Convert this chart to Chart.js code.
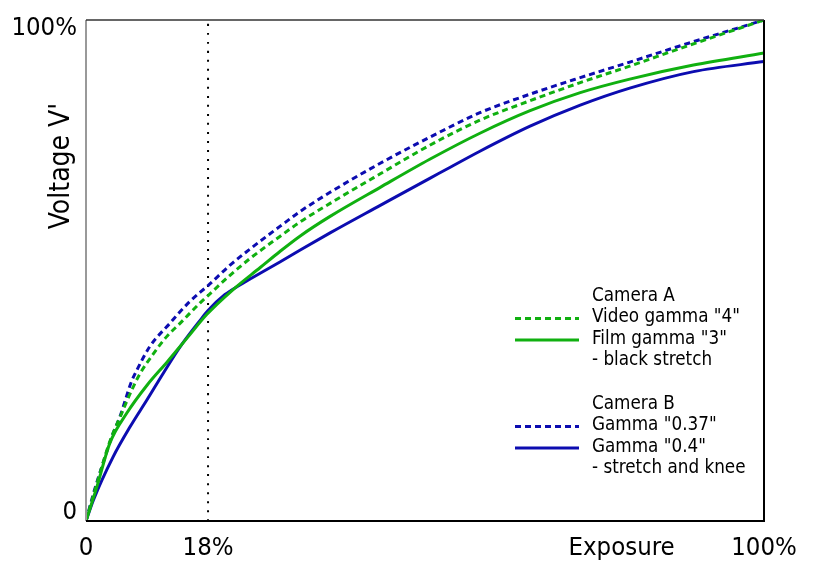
<!DOCTYPE html>
<html>
<head>
<meta charset="utf-8">
<script src="https://cdn.jsdelivr.net/npm/chart.js@4"></script>
<style>
  html, body { margin: 0; padding: 0; background: #fff; }
  #wrap { width: 814px; height: 561px; position: relative; }
</style>
</head>
<body>
<div id="wrap"><canvas id="chart"></canvas></div>
<script>
// Data (x = exposure %, y = voltage %)
const videoGamma4 = [[0,0],[1.5,7],[3.5,15.8],[5.2,21.3],[6.7,26],[8,29.5],[9.9,33.3],[11.9,36.8],[13.9,39.5],[16.8,43.5],[18,45],[21.2,49],[24.2,52.4],[28.6,56.8],[31.6,59.7],[36,63.4],[43.4,69.3],[50.7,75],[58.1,80],[65.5,83.9],[72.9,87.5],[80.2,90.8],[88,94.5],[100,100]];
const filmGamma3 = [[0,0],[1.6,6.8],[3.5,15.5],[6,21.5],[9,27.1],[12,31.8],[14.9,36.5],[17.8,41.2],[21.7,46.2],[25.7,50.6],[28.6,53.8],[31.6,56.9],[36,60.8],[43.4,66.6],[50.7,72.2],[58.1,77.4],[65.5,81.9],[72.9,85.5],[80.2,88.2],[89.6,91],[100,93.4]];
const gamma037 = [[0,0],[1.1,5.5],[2.5,11.5],[4,17.5],[5,20.8],[6.7,27.8],[7.5,30.1],[9.4,34.8],[12.4,39.5],[15.3,43.8],[18,47],[21.2,51],[24.2,54.3],[28.6,58.8],[31.6,61.8],[36,65.6],[43.4,71.4],[50.7,76.6],[58.1,81.5],[65.5,85.2],[72.9,88.5],[80.2,91.6],[88,95],[100,100]];
const gamma04 = [[0,0],[1.1,4.2],[4,12.8],[6.5,18.8],[9,24.2],[11.4,29.5],[13.9,34.8],[16.8,40],[18,42],[20.5,45.2],[22.7,47.1],[24.2,48.3],[28.6,51.7],[31.6,54.1],[36,57.5],[43.4,63],[50.7,68.4],[52.9,70],[58.1,73.8],[65.5,78.8],[72.9,83],[80.2,86.4],[89.6,89.7],[100,91.7]];
const markerLine = [[18,0],[18,100]];

const xTickValues = [0, 18, 79, 100];
const xTickLabels = ['0', '18%', 'Exposure', '100%'];
const yTickValues = [0, 100];
const yTickLabels = ['0', '100%'];
const yTitle = "Voltage V'";

const GREEN = '#10b010';
const BLUE = '#0c0cb0';
const FONT = "'DejaVu Sans Condensed', 'DejaVu Sans', sans-serif";

const toPts = arr => arr.map(p => ({ x: p[0], y: p[1] }));

// Legend groups: heading, then entries (dataset index + extra line)
const legendGroups = [
  { heading: 'Camera A', items: [
    { ds: 0, text: 'Video gamma "4"' },
    { ds: 1, text: 'Film gamma "3"' },
    { ds: null, text: '- black stretch' }
  ]},
  { heading: 'Camera B', items: [
    { ds: 2, text: 'Gamma "0.37"' },
    { ds: 3, text: 'Gamma "0.4"' },
    { ds: null, text: '- stretch and knee' }
  ]}
];

// Frame, y labels, y title and legend
const decorations = {
  id: 'decorations',
  afterDraw(chart) {
    const ctx = chart.ctx;
    const a = chart.chartArea;
    const ys = chart.scales.y;
    ctx.save();
    // frame
    ctx.lineWidth = 2;
    ctx.strokeStyle = '#999';
    ctx.beginPath(); ctx.moveTo(a.left, a.top); ctx.lineTo(a.left, a.bottom); ctx.stroke();
    ctx.strokeStyle = '#000';
    ctx.beginPath(); ctx.moveTo(a.left, a.bottom); ctx.lineTo(a.right, a.bottom); ctx.lineTo(a.right, a.top); ctx.stroke();
    ctx.strokeStyle = '#333';
    ctx.lineWidth = 1.5;
    ctx.beginPath(); ctx.moveTo(a.left, a.top); ctx.lineTo(a.right, a.top); ctx.stroke();

    // y tick labels, kept inside the axis range like the original
    ctx.fillStyle = '#000';
    ctx.font = '25.5px ' + FONT;
    ctx.textAlign = 'right';
    ctx.textBaseline = 'middle';
    yTickValues.forEach((v, i) => {
      const py = ys.getPixelForValue(v) + (v === 0 ? -9 : 8);
      ctx.fillText(yTickLabels[i], a.left - 9, py);
    });

    // y title
    ctx.font = '28px ' + FONT;
    ctx.textAlign = 'center';
    ctx.translate(62, 166);
    ctx.rotate(-Math.PI / 2);
    ctx.fillText(yTitle, 0, 0);
    ctx.setTransform(1, 0, 0, 1, 0, 0);

    // legend
    ctx.font = '18.7px ' + FONT;
    ctx.textAlign = 'left';
    let y = 296;
    legendGroups.forEach(g => {
      ctx.fillStyle = '#000';
      ctx.fillText(g.heading, 592, y);
      y += 21.5;
      g.items.forEach(it => {
        if (it.ds !== null) {
          const ds = chart.data.datasets[it.ds];
          ctx.strokeStyle = ds.borderColor;
          ctx.lineWidth = 3;
          ctx.setLineDash(ds.borderDash || []);
          ctx.beginPath(); ctx.moveTo(515, y + 1); ctx.lineTo(579, y + 1); ctx.stroke();
          ctx.setLineDash([]);
        }
        ctx.fillStyle = '#000';
        ctx.fillText(it.text, 592, y);
        y += 21.5;
      });
      y += 22;
    });
    ctx.restore();
  }
};

new Chart(document.getElementById('chart'), {
  type: 'line',
  data: {
    datasets: [
      { label: 'Video gamma "4"', data: toPts(videoGamma4), borderColor: GREEN, borderDash: [6, 4] },
      { label: 'Film gamma "3"', data: toPts(filmGamma3), borderColor: GREEN },
      { label: 'Gamma "0.37"', data: toPts(gamma037), borderColor: BLUE, borderDash: [6, 4] },
      { label: 'Gamma "0.4"', data: toPts(gamma04), borderColor: BLUE },
      { label: '18%', data: toPts(markerLine), borderColor: '#000', borderWidth: 2, borderDash: [2, 7], tension: 0 }
    ]
  },
  options: {
    responsive: true,
    maintainAspectRatio: false,
    animation: false,
    layout: { padding: { top: 20, right: 50, left: 0, bottom: 0 } },
    elements: {
      point: { radius: 0 },
      line: { borderWidth: 3, cubicInterpolationMode: 'monotone', fill: false }
    },
    plugins: { legend: { display: false }, tooltip: { enabled: false } },
    scales: {
      x: {
        type: 'linear', min: 0, max: 100,
        grid: { display: false, drawTicks: false }, border: { display: false },
        afterBuildTicks: s => { s.ticks = xTickValues.map(v => ({ value: v })); },
        afterFit: s => { s.height = 40; },
        ticks: {
          autoSkip: false, maxRotation: 0, padding: 12, color: '#000',
          font: { size: 25.5, family: FONT },
          callback: (v, i) => xTickLabels[i]
        }
      },
      y: {
        min: 0, max: 100,
        grid: { display: false, drawTicks: false }, border: { display: false },
        afterBuildTicks: s => { s.ticks = yTickValues.map(v => ({ value: v })); },
        afterFit: s => { s.width = 86; },
        ticks: { display: false }
      }
    }
  },
  plugins: [decorations]
});
</script>
</body>
</html>
